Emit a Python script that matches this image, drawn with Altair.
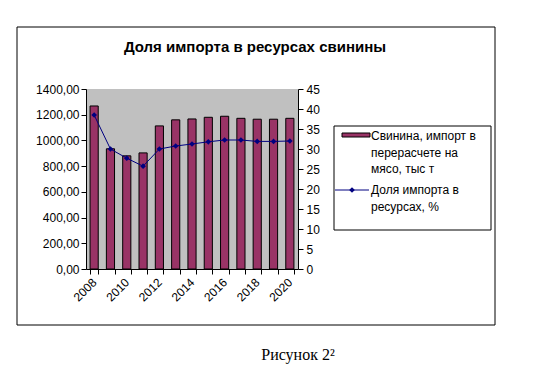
import altair as alt
import pandas as pd

years = ["2008", "2009", "2010", "2011", "2012", "2013", "2014", "2015", "2016", "2017", "2018", "2019", "2020"]
pork_import = [1268, 935, 880, 903, 1113, 1160, 1167, 1180, 1188, 1172, 1165, 1165, 1172]
import_share = [38.5, 30.0, 27.7, 25.7, 30.0, 30.75, 31.25, 31.8, 32.25, 32.25, 31.9, 31.9, 32.0]
left_ticks = [0, 200, 400, 600, 800, 1000, 1200, 1400]
right_ticks = [0, 5, 10, 15, 20, 25, 30, 35, 40, 45]

title_text = "Доля импорта в ресурсах свинины"
legend_bar = ["Свинина, импорт в", "перерасчете на", "мясо, тыс т"]
legend_line = ["Доля импорта в", "ресурсах, %"]
caption = "Рисунок 2²"

df = pd.DataFrame({"year": years, "pork": pork_import, "share": import_share})
one = pd.DataFrame({"k": [0]})

FONT = "Liberation Sans"
BAR = "#993366"
NAVY = "#000080"

x_enc = alt.X(
    "year:N",
    sort=years,
    scale=alt.Scale(paddingInner=0.5, paddingOuter=0.25),
    axis=alt.Axis(
        title=None,
        tickBand="extent",
        labelAngle=-45,
        labelAlign="right",
        labelBaseline="middle",
        labelPadding=6,
        tickSize=5,
        labelExpr="toNumber(datum.value) % 2 == 0 ? datum.label : ''",
    ),
)

bars = alt.Chart(df).mark_bar(color=BAR, stroke="black", strokeWidth=1).encode(
    x=x_enc,
    y=alt.Y(
        "pork:Q",
        scale=alt.Scale(domain=[0, 1400]),
        axis=alt.Axis(
            title=None,
            orient="left",
            values=left_ticks,
            labelExpr="replace(format(datum.value, '.2f'), '.', ',')",
            tickSize=5,
            labelPadding=2,
        ),
    ),
)

line = alt.Chart(df).mark_line(
    color=NAVY,
    strokeWidth=1,
    point=alt.OverlayMarkDef(shape="diamond", size=32, filled=True, color=NAVY),
).encode(
    x=alt.X("year:N", sort=years),
    y=alt.Y(
        "share:Q",
        scale=alt.Scale(domain=[0, 45]),
        axis=alt.Axis(title=None, orient="right", values=right_ticks, tickSize=5, labelPadding=3),
    ),
)


def txt(x, y, s, size=12, weight="normal", align="left", font=FONT):
    return alt.Chart(one).mark_text(
        font=font, fontSize=size, fontWeight=weight, align=align, baseline="middle", color="black"
    ).encode(x=alt.value(x), y=alt.value(y), text=alt.value(s))


frame = alt.Chart(one).mark_rect(fillOpacity=0, stroke="black", strokeWidth=1).encode(
    x=alt.value(-69), x2=alt.value(409), y=alt.value(-62), y2=alt.value(236)
)
legend_box = alt.Chart(one).mark_rect(fill="white", stroke="black", strokeWidth=1).encode(
    x=alt.value(248), x2=alt.value(405), y=alt.value(37), y2=alt.value(141)
)
swatch = alt.Chart(one).mark_rect(fill=BAR, stroke="black", strokeWidth=1).encode(
    x=alt.value(256), x2=alt.value(284), y=alt.value(44), y2=alt.value(48)
)
leg_line = alt.Chart(one).mark_rule(color=NAVY, strokeWidth=1).encode(
    x=alt.value(249), x2=alt.value(283), y=alt.value(101)
)
leg_pt = alt.Chart(one).mark_point(shape="diamond", size=32, filled=True, color=NAVY, opacity=1).encode(
    x=alt.value(266), y=alt.value(101)
)

layers = [frame, bars, line, legend_box, swatch, leg_line, leg_pt,
          txt(169, -42, title_text, size=15, weight="bold", align="center")]
for i, s in enumerate(legend_bar):
    layers.append(txt(285, 47 + i * 16.5, s))
for i, s in enumerate(legend_line):
    layers.append(txt(285, 101 + i * 17, s))
layers.append(txt(212, 266, caption, size=16, align="center", font="Liberation Serif"))

chart = alt.layer(*layers).resolve_scale(y="independent").properties(
    width=212,
    height=180,
    autosize=alt.AutoSizeParams(type="none"),
    padding={"left": 78, "top": 81, "right": 240, "bottom": 102},
    background="white",
).configure_view(fill="#C0C0C0", stroke=None).configure_axis(
    labelFont=FONT,
    labelFontSize=12,
    labelColor="black",
    domainColor="black",
    tickColor="black",
    grid=False,
)

chart.save("out.html", embed_options={"renderer": "svg", "actions": False})
